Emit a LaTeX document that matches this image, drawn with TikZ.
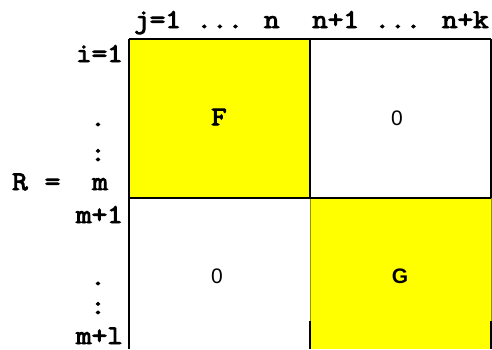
\documentclass[tikz,border=0pt]{standalone}
\usepackage{fontspec}
\newfontfamily\courfont{Latin Modern Mono}[AutoFakeBold=3.5,FakeStretch=1.12]
\setsansfont{Liberation Sans}
\definecolor{cellyellow}{RGB}{255,255,0}
\definecolor{thinolive}{RGB}{150,150,0}
\begin{document}
\begin{tikzpicture}[x=1bp,y=-1bp,
  lbl/.style={inner sep=0pt,text depth=0pt,font=\courfont\bfseries\fontsize{27bp}{29bp}\selectfont},
  zero/.style={inner sep=0pt,font=\sffamily\fontsize{21bp}{23bp}\selectfont},
  gl/.style={inner sep=0pt,font=\sffamily\bfseries\fontsize{21bp}{23bp}\selectfont},
  border/.style={line width=2bp,black},
  thin/.style={line width=1bp,thinolive}]
\useasboundingbox (0,0) rectangle (492,349);
% cells
\fill[cellyellow] (129,39) rectangle (310,198);
\fill[cellyellow] (310,198) rectangle (491,349);
% corner coordinates
\coordinate (tl) at (129,39);
\coordinate (tm) at (310,39);
\coordinate (tr) at (491,39);
\coordinate (ml) at (129,198);
\coordinate (mm) at (310,198);
\coordinate (mr) at (491,198);
\coordinate (bl) at (129,349);
\coordinate (gm) at (310,321);
\coordinate (gr) at (491,321);
\coordinate (bm) at (310,349);
\coordinate (br) at (491,349);
% thin G borders
\draw[thin] (mm) -- (gm);
\draw[thin] (mr) -- (gr);
% black borders
\draw[border] (tl) -- (tr);
\draw[border] (tl) -- (bl);
\draw[border] (tm) -- (mm);
\draw[border] (tr) -- (mr);
\draw[border] (ml) -- (mr);
\draw[border] (gm) -- (bm);
\draw[border] (gr) -- (br);
% top labels
\node[lbl,anchor=base west] (colsA) at (134,28) {j=1 ... n};
\node[lbl,anchor=base west] (colsB) at (312,28) {n+1 ... n+k};
% left labels
\node[lbl,anchor=base east] (rowA) at (123,62) {i=1};
\node[lbl,anchor=base] (dotA) at (98,126) {.};
\node[lbl,anchor=base] (colonA) at (98,161) {:};
\node[lbl,anchor=base west] (rowR) at (12,190) {R\hspace{17bp}=\hspace{32bp}m};
\node[lbl,anchor=base east] (rowB) at (123,223) {m+1};
\node[lbl,anchor=base] (dotB) at (98,285) {.};
\node[lbl,anchor=base] (colonB) at (98,314) {:};
\node[lbl,anchor=base east] (rowC) at (123,344) {m+l};
% cell labels
\node[lbl] (F) at (219,117) {F};
\node[zero] (zA) at (397,118) {0};
\node[zero] (zB) at (217,276) {0};
\node[gl] (G) at (400,276) {G};
\end{tikzpicture}
\end{document}
